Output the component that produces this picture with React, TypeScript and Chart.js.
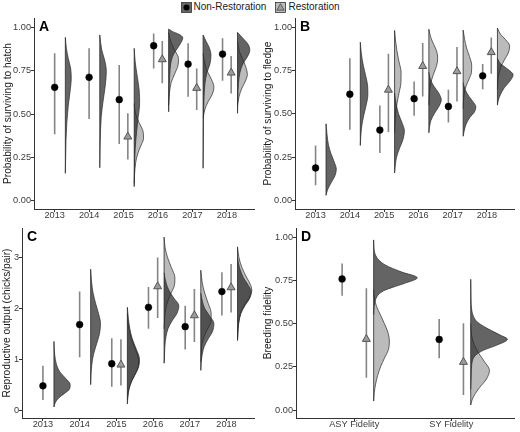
import React, { useEffect, useRef } from 'react';
import { Chart, registerables } from 'chart.js';

Chart.register(...registerables);

const FONT = '"Liberation Sans", Arial, Helvetica, sans-serif';
const TICK_COLOR = '#3a3a3a';
const AXIS_COLOR = '#333333';
const NR_FILL = 'rgba(40,40,40,0.72)';
const R_FILL = 'rgba(170,170,170,0.8)';
const OUTLINE = '#2a2a2a';
const BAR_COLOR = '#858585';

type Profile = [number, number][];

// ---------- shared ticks ----------
const yearCats = ['2013', '2014', '2015', '2016', '2017', '2018'];
const probTicks = [0, 0.25, 0.5, 0.75, 1];
const probTickLabels = ['0.00', '0.25', '0.50', '0.75', '1.00'];

// ---------- Panel A: probability of surviving to hatch ----------
const hatchNR = [0.654, 0.712, 0.583, 0.894, 0.788, 0.846];
const hatchNRLo = [0.383, 0.471, 0.327, 0.763, 0.6, 0.692];
const hatchNRHi = [0.85, 0.879, 0.783, 0.965, 0.908, 0.937];
const hatchR = [null, null, 0.369, 0.815, 0.65, 0.738];
const hatchRLo = [null, null, 0.238, 0.677, 0.523, 0.619];
const hatchRHi = [null, null, 0.504, 0.921, 0.763, 0.835];
const hatchNRDens: (Profile | null)[] = [
  [[0.158, 0], [0.25, 0.009], [0.35, 0.02], [0.45, 0.043], [0.55, 0.086], [0.64, 0.143], [0.7, 0.171], [0.76, 0.157], [0.82, 0.086], [0.88, 0.03], [0.942, 0]],
  [[0.19, 0], [0.35, 0.014], [0.485, 0.043], [0.58, 0.1], [0.66, 0.157], [0.744, 0.19], [0.81, 0.143], [0.87, 0.057], [0.956, 0]],
  [[0.081, 0], [0.2, 0.011], [0.3, 0.029], [0.4, 0.071], [0.48, 0.114], [0.56, 0.157], [0.64, 0.143], [0.72, 0.086], [0.8, 0.029], [0.879, 0]],
  [[0.513, 0], [0.62, 0.012], [0.72, 0.03], [0.79, 0.06], [0.83, 0.11], [0.86, 0.19], [0.89, 0.29], [0.92, 0.38], [0.94, 0.41], [0.96, 0.3], [0.975, 0.12], [0.99, 0]],
  [[0.187, 0], [0.3, 0.006], [0.45, 0.011], [0.6, 0.029], [0.68, 0.057], [0.74, 0.114], [0.79, 0.2], [0.84, 0.229], [0.88, 0.186], [0.92, 0.086], [0.956, 0]],
  [[0.504, 0], [0.6, 0.011], [0.68, 0.029], [0.74, 0.071], [0.79, 0.157], [0.83, 0.286], [0.87, 0.357], [0.9, 0.314], [0.94, 0.143], [0.971, 0]],
];
const hatchRDens: (Profile | null)[] = [
  null,
  null,
  [[0.1, 0], [0.15, 0.009], [0.22, 0.043], [0.27, 0.1], [0.32, 0.2], [0.36, 0.271], [0.4, 0.257], [0.45, 0.143], [0.5, 0.043], [0.56, 0]],
  [[0.55, 0], [0.62, 0.023], [0.68, 0.071], [0.73, 0.171], [0.78, 0.271], [0.82, 0.286], [0.87, 0.171], [0.92, 0.057], [0.97, 0]],
  [[0.48, 0], [0.53, 0.057], [0.57, 0.143], [0.61, 0.257], [0.655, 0.314], [0.7, 0.243], [0.75, 0.114], [0.8, 0.043], [0.85, 0]],
  [[0.55, 0], [0.6, 0.043], [0.65, 0.129], [0.69, 0.229], [0.73, 0.286], [0.77, 0.243], [0.82, 0.143], [0.86, 0.057], [0.92, 0]],
];

// ---------- Panel B: probability of surviving to fledge ----------
const fledgeNR = [0.187, 0.613, 0.406, 0.587, 0.542, 0.719];
const fledgeNRLo = [0.087, 0.408, 0.273, 0.488, 0.45, 0.642];
const fledgeNRHi = [0.317, 0.821, 0.548, 0.687, 0.638, 0.788];
const fledgeR = [null, null, 0.638, 0.775, 0.745, 0.855];
const fledgeRLo = [null, null, 0.394, 0.6, 0.571, 0.731];
const fledgeRHi = [null, null, 0.846, 0.908, 0.885, 0.94];
const fledgeNRDens: (Profile | null)[] = [
  [[0.029, 0], [0.06, 0.043], [0.1, 0.143], [0.14, 0.257], [0.18, 0.3], [0.22, 0.243], [0.27, 0.143], [0.32, 0.071], [0.38, 0.029], [0.442, 0]],
  [[0.317, 0], [0.37, 0.014], [0.43, 0.043], [0.49, 0.1], [0.55, 0.171], [0.61, 0.22], [0.66, 0.214], [0.72, 0.157], [0.78, 0.086], [0.85, 0.029], [0.913, 0]],
  [[0.158, 0], [0.2, 0.02], [0.25, 0.057], [0.3, 0.143], [0.35, 0.243], [0.4, 0.286], [0.45, 0.214], [0.5, 0.114], [0.56, 0.043], [0.62, 0]],
  [[0.39, 0], [0.42, 0.017], [0.46, 0.057], [0.5, 0.157], [0.54, 0.286], [0.58, 0.363], [0.62, 0.286], [0.66, 0.143], [0.7, 0.043], [0.74, 0]],
  [[0.37, 0], [0.4, 0.029], [0.44, 0.086], [0.48, 0.2], [0.51, 0.329], [0.54, 0.371], [0.57, 0.286], [0.6, 0.171], [0.64, 0.057], [0.68, 0]],
  [[0.55, 0], [0.58, 0.029], [0.61, 0.086], [0.65, 0.2], [0.69, 0.371], [0.725, 0.457], [0.76, 0.286], [0.79, 0.086], [0.82, 0]],
];
const fledgeRDens: (Profile | null)[] = [
  null,
  null,
  [[0.39, 0], [0.43, 0.009], [0.5, 0.029], [0.56, 0.071], [0.62, 0.129], [0.68, 0.186], [0.74, 0.19], [0.8, 0.129], [0.86, 0.071], [0.92, 0.029], [0.981, 0]],
  [[0.55, 0], [0.6, 0.011], [0.65, 0.034], [0.7, 0.086], [0.74, 0.157], [0.78, 0.229], [0.82, 0.257], [0.86, 0.229], [0.9, 0.143], [0.94, 0.057], [0.988, 0]],
  [[0.53, 0], [0.57, 0.009], [0.62, 0.034], [0.66, 0.086], [0.7, 0.171], [0.74, 0.243], [0.78, 0.249], [0.83, 0.186], [0.88, 0.1], [0.93, 0.043], [0.983, 0]],
  [[0.64, 0], [0.68, 0.011], [0.73, 0.043], [0.77, 0.1], [0.81, 0.2], [0.85, 0.314], [0.89, 0.357], [0.93, 0.229], [0.96, 0.086], [0.995, 0]],
];

// ---------- Panel C: reproductive output ----------
const outputTicks = [0, 1, 2, 3];
const outputTickLabels = ['0', '1', '2', '3'];
const outputNR = [0.476, 1.68, 0.91, 2.02, 1.64, 2.33];
const outputNRLo = [0.196, 1.04, 0.46, 1.6, 1.19, 1.86];
const outputNRHi = [0.87, 2.33, 1.41, 2.42, 2.05, 2.71];
const outputR = [null, null, 0.89, 2.43, 1.86, 2.41];
const outputRLo = [null, null, 0.48, 1.81, 1.34, 1.92];
const outputRHi = [null, null, 1.39, 3.0, 2.38, 2.87];
const outputNRDens: (Profile | null)[] = [
  [[0.06, 0], [0.15, 0.04], [0.24, 0.134], [0.33, 0.295], [0.42, 0.429], [0.5, 0.442], [0.62, 0.322], [0.75, 0.161], [0.9, 0.067], [1.1, 0.019], [1.35, 0]],
  [[0.5, 0], [0.7, 0.011], [0.9, 0.032], [1.1, 0.08], [1.3, 0.161], [1.5, 0.241], [1.7, 0.268], [1.9, 0.214], [2.1, 0.134], [2.3, 0.067], [2.5, 0.027], [2.77, 0]],
  [[0.12, 0], [0.25, 0.013], [0.4, 0.04], [0.55, 0.107], [0.7, 0.214], [0.85, 0.308], [1.0, 0.33], [1.2, 0.241], [1.4, 0.134], [1.6, 0.067], [1.8, 0.027], [2.02, 0]],
  [[0.92, 0], [1.0, 0.008], [1.25, 0.021], [1.45, 0.054], [1.6, 0.107], [1.75, 0.214], [1.9, 0.349], [2.05, 0.402], [2.2, 0.268], [2.35, 0.134], [2.5, 0.054], [2.7, 0]],
  [[0.78, 0], [0.95, 0.013], [1.1, 0.04], [1.25, 0.094], [1.4, 0.201], [1.55, 0.322], [1.7, 0.357], [1.85, 0.241], [2.0, 0.107], [2.15, 0.04], [2.3, 0]],
  [[1.37, 0], [1.5, 0.011], [1.7, 0.032], [1.9, 0.094], [2.05, 0.201], [2.2, 0.335], [2.32, 0.375], [2.45, 0.295], [2.6, 0.161], [2.8, 0.054], [3.0, 0]],
];
const outputRDens: (Profile | null)[] = [
  null,
  null,
  [[0.2, 0], [0.35, 0.025], [0.5, 0.08], [0.65, 0.17], [0.8, 0.27], [0.95, 0.31], [1.1, 0.27], [1.3, 0.16], [1.5, 0.07], [1.7, 0.02], [1.9, 0]],
  [[1.6, 0], [1.8, 0.016], [2.0, 0.048], [2.15, 0.107], [2.3, 0.188], [2.45, 0.282], [2.6, 0.295], [2.8, 0.201], [3.0, 0.094], [3.2, 0.027], [3.4, 0]],
  [[0.95, 0], [1.1, 0.008], [1.3, 0.032], [1.45, 0.094], [1.6, 0.188], [1.75, 0.282], [1.9, 0.282], [2.1, 0.201], [2.3, 0.107], [2.5, 0.04], [2.75, 0]],
  [[1.37, 0], [1.5, 0.008], [1.7, 0.027], [1.9, 0.08], [2.05, 0.174], [2.2, 0.308], [2.35, 0.389], [2.45, 0.362], [2.6, 0.255], [2.8, 0.121], [3.0, 0.04], [3.21, 0]],
];

// ---------- Panel D: breeding fidelity ----------
const fidelityCats = ['ASY Fidelity', 'SY Fidelity'];
const fidelityNR = [0.759, 0.409];
const fidelityNRLo = [0.662, 0.3];
const fidelityNRHi = [0.849, 0.527];
const fidelityR = [0.411, 0.278];
const fidelityRLo = [0.187, 0.087];
const fidelityRHi = [0.705, 0.502];
const fidelityNRDens: (Profile | null)[] = [
  [[0.55, 0], [0.58, 0.003], [0.62, 0.01], [0.656, 0.033], [0.675, 0.061], [0.695, 0.119], [0.71, 0.193], [0.734, 0.321], [0.766, 0.449], [0.8, 0.284], [0.84, 0.119], [0.87, 0.051], [0.9, 0.017], [0.94, 0.003], [0.985, 0]],
  [[0.12, 0], [0.2, 0.005], [0.28, 0.015], [0.318, 0.051], [0.347, 0.135], [0.376, 0.27], [0.41, 0.378], [0.434, 0.304], [0.473, 0.169], [0.51, 0.068], [0.54, 0.03], [0.58, 0.01], [0.65, 0.003], [0.757, 0]],
];
const fidelityRDens: (Profile | null)[] = [
  [[0.052, 0], [0.1, 0.006], [0.15, 0.02], [0.2, 0.041], [0.25, 0.071], [0.3, 0.111], [0.35, 0.152], [0.4, 0.162], [0.45, 0.147], [0.5, 0.111], [0.55, 0.071], [0.6, 0.03], [0.65, 0.007], [0.7, 0]],
  [[0.029, 0], [0.06, 0.015], [0.09, 0.041], [0.13, 0.091], [0.18, 0.162], [0.23, 0.193], [0.28, 0.142], [0.33, 0.081], [0.38, 0.035], [0.43, 0.01], [0.5, 0]],
];

// ---------- assembly ----------
interface PanelData {
  cats: string[];
  nr: number[]; nrLo: number[]; nrHi: number[];
  r: (number | null)[]; rLo: (number | null)[]; rHi: (number | null)[];
  nrDens: (Profile | null)[]; rDens: (Profile | null)[];
  yTicks: number[]; yTickLabels: string[];
  yTitle: string; letter: string;
}
interface PanelLayout {
  left: number; top: number; width: number; height: number;
  padTop: number; padRight: number; yWidth: number; xHeight: number;
  xMin: number; xMax: number; yMin: number; yMax: number;
  dodge: number; nudge: number; titlePad: number;
}

const panelA: PanelData = {
  cats: yearCats, nr: hatchNR, nrLo: hatchNRLo, nrHi: hatchNRHi, r: hatchR, rLo: hatchRLo, rHi: hatchRHi,
  nrDens: hatchNRDens, rDens: hatchRDens, yTicks: probTicks, yTickLabels: probTickLabels,
  yTitle: 'Probability of surviving to hatch', letter: 'A',
};
const panelB: PanelData = {
  cats: yearCats, nr: fledgeNR, nrLo: fledgeNRLo, nrHi: fledgeNRHi, r: fledgeR, rLo: fledgeRLo, rHi: fledgeRHi,
  nrDens: fledgeNRDens, rDens: fledgeRDens, yTicks: probTicks, yTickLabels: probTickLabels,
  yTitle: 'Probability of surviving to fledge', letter: 'B',
};
const panelC: PanelData = {
  cats: yearCats, nr: outputNR, nrLo: outputNRLo, nrHi: outputNRHi, r: outputR, rLo: outputRLo, rHi: outputRHi,
  nrDens: outputNRDens, rDens: outputRDens, yTicks: outputTicks, yTickLabels: outputTickLabels,
  yTitle: 'Reproductive output (chicks/pair)', letter: 'C',
};
const panelD: PanelData = {
  cats: fidelityCats, nr: fidelityNR, nrLo: fidelityNRLo, nrHi: fidelityNRHi, r: fidelityR, rLo: fidelityRLo, rHi: fidelityRHi,
  nrDens: fidelityNRDens, rDens: fidelityRDens, yTicks: probTicks, yTickLabels: probTickLabels,
  yTitle: 'Breeding fidelity', letter: 'D',
};

const layoutA: PanelLayout = { left: 0, top: 0, width: 260, height: 224, padTop: 18, padRight: 2, yWidth: 34, xHeight: 15, xMin: -0.6, xMax: 5.8, yMin: -0.048, yMax: 1.054, dodge: 0.125, nudge: 0.31, titlePad: 2 };
const layoutB: PanelLayout = { left: 260, top: 0, width: 260, height: 224, padTop: 18, padRight: 2, yWidth: 35, xHeight: 15, xMin: -0.6, xMax: 5.8, yMin: -0.05, yMax: 1.053, dodge: 0.125, nudge: 0.305, titlePad: 2 };
const layoutC: PanelLayout = { left: 0, top: 216, width: 260, height: 216, padTop: 12, padRight: 2, yWidth: 22, xHeight: 14, xMin: -0.57, xMax: 5.76, yMin: -0.157, yMax: 3.58, dodge: 0.125, nudge: 0.3, titlePad: 1 };
const layoutD: PanelLayout = { left: 260, top: 216, width: 260, height: 216, padTop: 12, padRight: 2, yWidth: 36, xHeight: 14, xMin: -0.6, xMax: 1.65, yMin: -0.046, yMax: 1.054, dodge: 0.125, nudge: 0.2, titlePad: 2 };

function violinDataset(p: Profile, base: number, fill: string, order: number) {
  return {
    data: p.map(([v, w]) => ({ x: base + w, y: v })),
    indexAxis: 'y',
    cubicInterpolationMode: 'monotone',
    showLine: true,
    fill: 'shape',
    backgroundColor: fill,
    borderColor: OUTLINE,
    borderWidth: 0.7,
    pointRadius: 0,
    order,
  };
}

function buildConfig(d: PanelData, l: PanelLayout): any {
  const datasets: any[] = [];
  const hasR = (i: number) => d.r[i] !== null && d.r[i] !== undefined;
  const nrX = (i: number) => i + (hasR(i) ? -l.dodge : 0);
  const rX = (i: number) => i + l.dodge;

  d.rDens.forEach((p, i) => { if (p) datasets.push(violinDataset(p, i + l.nudge, R_FILL, 6)); });
  d.nrDens.forEach((p, i) => { if (p) datasets.push(violinDataset(p, i + l.nudge, NR_FILL, 5)); });

  const baseData: any[] = [];
  d.cats.forEach((_, i) => {
    const profs = [d.nrDens[i], d.rDens[i]].filter(Boolean) as Profile[];
    if (!profs.length) return;
    const lo = Math.min(...profs.map((p) => p[0][0]));
    const hi = Math.max(...profs.map((p) => p[p.length - 1][0]));
    baseData.push({ x: i + l.nudge, y: lo }, { x: i + l.nudge, y: hi }, { x: null, y: null });
  });
  datasets.push({ data: baseData, showLine: true, borderColor: OUTLINE, borderWidth: 0.8, pointRadius: 0, fill: false, order: 4 });

  const barData: any[] = [];
  d.cats.forEach((_, i) => {
    barData.push({ x: nrX(i), y: d.nrLo[i] }, { x: nrX(i), y: d.nrHi[i] }, { x: null, y: null });
    if (hasR(i)) barData.push({ x: rX(i), y: d.rLo[i] }, { x: rX(i), y: d.rHi[i] }, { x: null, y: null });
  });
  datasets.push({ data: barData, showLine: true, borderColor: BAR_COLOR, borderWidth: 1.6, pointRadius: 0, fill: false, order: 3 });

  datasets.push({
    data: d.cats.map((_, i) => (hasR(i) ? { x: rX(i), y: d.r[i] } : null)).filter(Boolean),
    showLine: false, pointStyle: 'triangle', pointRadius: 4.6,
    pointBackgroundColor: '#9c9c9c', pointBorderColor: '#555555', pointBorderWidth: 1, order: 2,
  });
  datasets.push({
    data: d.cats.map((_, i) => ({ x: nrX(i), y: d.nr[i] })),
    showLine: false, pointStyle: 'circle', pointRadius: 3.4,
    pointBackgroundColor: '#000000', pointBorderColor: '#000000', pointBorderWidth: 0.5, order: 1,
  });

  const gridOpts = { display: true, drawOnChartArea: false, drawTicks: true, tickLength: 3, color: AXIS_COLOR, lineWidth: 1 };
  const borderOpts = { display: true, color: AXIS_COLOR, width: 1 };

  return {
    type: 'line',
    data: { datasets },
    options: {
      animation: false,
      responsive: false,
      events: [],
      layout: { padding: { top: l.padTop, right: l.padRight, left: 0, bottom: 0 } },
      plugins: { legend: { display: false }, tooltip: { enabled: false } },
      scales: {
        x: {
          type: 'linear', min: l.xMin, max: l.xMax,
          afterBuildTicks: (s: any) => { s.ticks = d.cats.map((_, i) => ({ value: i })); },
          afterFit: (s: any) => { s.height = l.xHeight; },
          ticks: {
            autoSkip: false, maxRotation: 0, minRotation: 0, padding: -1.7, color: TICK_COLOR,
            font: { family: FONT, size: 9.2 },
            callback: (v: any) => d.cats[Math.round(Number(v))] ?? '',
          },
          grid: gridOpts, border: borderOpts,
        },
        y: {
          type: 'linear', min: l.yMin, max: l.yMax,
          afterBuildTicks: (s: any) => { s.ticks = d.yTicks.map((v) => ({ value: v })); },
          afterFit: (s: any) => { s.width = l.yWidth; },
          ticks: {
            padding: 0, color: TICK_COLOR, font: { family: FONT, size: 9.2 },
            callback: (_v: any, i: number) => d.yTickLabels[i],
          },
          grid: gridOpts, border: borderOpts,
          title: { display: true, text: d.yTitle, color: '#1a1a1a', font: { family: FONT, size: 10.2 }, padding: { top: l.titlePad, bottom: 0 } },
        },
      },
    },
    plugins: [{
      id: 'panelLetter',
      afterDraw(chart: any) {
        const { ctx, chartArea } = chart;
        ctx.save();
        ctx.font = `bold 14px ${FONT}`;
        ctx.fillStyle = '#000';
        ctx.textBaseline = 'alphabetic';
        ctx.textAlign = 'left';
        ctx.fillText(d.letter, chartArea.left + 5, chartArea.top + 13);
        ctx.restore();
      },
    }],
  };
}

function Panel({ data, layout }: { data: PanelData; layout: PanelLayout }) {
  const ref = useRef<HTMLCanvasElement>(null);
  useEffect(() => {
    const chart = new Chart(ref.current as HTMLCanvasElement, buildConfig(data, layout));
    return () => chart.destroy();
  }, [data, layout]);
  return (
    <canvas
      ref={ref}
      width={layout.width}
      height={layout.height}
      style={{ position: 'absolute', left: layout.left, top: layout.top, width: layout.width, height: layout.height }}
    />
  );
}

function Legend() {
  const text: React.CSSProperties = { position: 'absolute', fontSize: 10, lineHeight: '12px', color: '#1a1a1a', fontFamily: FONT, whiteSpace: 'nowrap' };
  return (
    <>
      <svg style={{ position: 'absolute', left: 181, top: 2 }} width={11} height={11}>
        <rect x={0.5} y={0.5} width={10} height={10} fill="#666666" stroke="#333" strokeWidth={0.8} />
        <circle cx={5.5} cy={5.5} r={3} fill="#000" />
      </svg>
      <span style={{ ...text, left: 193.5, top: 1 }}>Non-Restoration</span>
      <svg style={{ position: 'absolute', left: 275, top: 2 }} width={11} height={11}>
        <rect x={0.5} y={0.5} width={10} height={10} fill="#bdbdbd" stroke="#333" strokeWidth={0.8} />
        <polygon points="5.5,1.6 9.2,8.2 1.8,8.2" fill="#9c9c9c" stroke="#555" strokeWidth={0.9} />
      </svg>
      <span style={{ ...text, left: 288.5, top: 1 }}>Restoration</span>
    </>
  );
}

export default function App() {
  return (
    <div style={{ position: 'absolute', left: 0, top: 0, width: 520, height: 432, background: '#ffffff', overflow: 'hidden' }}>
      <Legend />
      <Panel data={panelA} layout={layoutA} />
      <Panel data={panelB} layout={layoutB} />
      <Panel data={panelC} layout={layoutC} />
      <Panel data={panelD} layout={layoutD} />
    </div>
  );
}
